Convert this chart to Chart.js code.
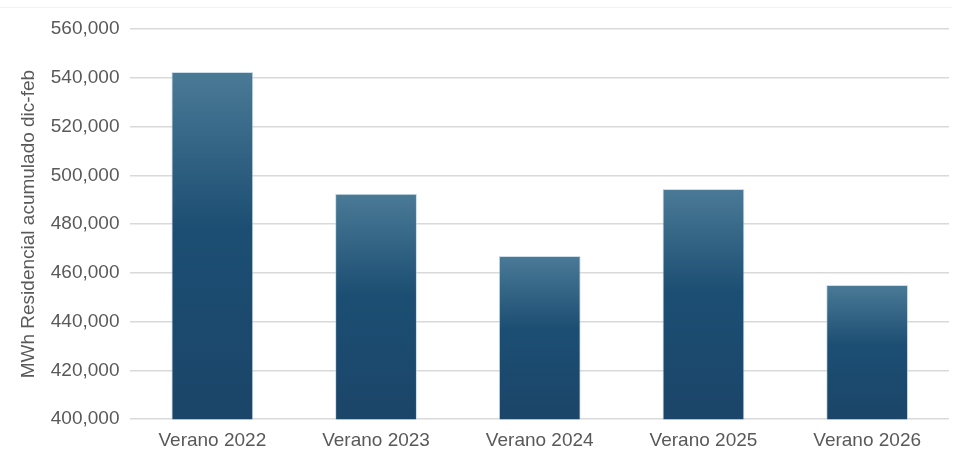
<!DOCTYPE html>
<html>
<head>
<meta charset="utf-8">
<script src="https://cdn.jsdelivr.net/npm/chart.js@4"></script>
<style>
  html, body { margin: 0; padding: 0; background: #fff; }
  #wrap { width: 956px; height: 468px; }
</style>
</head>
<body>
<div id="wrap"><canvas id="c"></canvas></div>
<script>
const categories = ['Verano 2022', 'Verano 2023', 'Verano 2024', 'Verano 2025', 'Verano 2026'];
const mwhValues = [542400, 492400, 466900, 494400, 455000];
const yTicks = [400000, 420000, 440000, 460000, 480000, 500000, 520000, 540000, 560000];

// degradado por barra: claro arriba, oscuro abajo
function barGradient(context) {
  const chart = context.chart;
  const { ctx, chartArea, scales } = chart;
  if (!chartArea) return '#1d4d71';
  const top = scales.y.getPixelForValue(context.raw);
  const bottom = scales.y.getPixelForValue(yTicks[0]);
  const g = ctx.createLinearGradient(0, top, 0, bottom);
  g.addColorStop(0, '#4a7a96');
  g.addColorStop(0.45, '#1c4e73');
  g.addColorStop(1, '#1b4569');
  return g;
}

const topLine = {
  id: 'topLine',
  beforeDraw(chart) {
    const ctx = chart.ctx;
    ctx.save();
    ctx.strokeStyle = '#f2f2f2';
    ctx.lineWidth = 1;
    ctx.beginPath();
    ctx.moveTo(0, 7.5);
    ctx.lineTo(chart.width - 4, 7.5);
    ctx.stroke();
    ctx.restore();
  }
};

const font = { family: 'Liberation Sans', size: 19 };

new Chart(document.getElementById('c'), {
  type: 'bar',
  data: {
    labels: categories,
    datasets: [{
      data: mwhValues,
      backgroundColor: barGradient,
      borderColor: 'rgba(170, 200, 220, 0.6)',
      borderWidth: 1,
      categoryPercentage: 1,
      barPercentage: 0.5
    }]
  },
  options: {
    responsive: true,
    maintainAspectRatio: false,
    animation: false,
    layout: { padding: { left: 17, right: 7, top: 29, bottom: 6 } },
    plugins: {
      legend: { display: false },
      tooltip: { enabled: false }
    },
    scales: {
      x: {
        grid: { display: false, drawTicks: false },
        border: { display: false },
        ticks: { color: '#595959', font: font, padding: 10 }
      },
      y: {
        min: 400000,
        max: 560000,
        afterBuildTicks(axis) { axis.ticks = yTicks.map(v => ({ value: v })); },
        grid: { color: '#d9d9d9', lineWidth: 1.5, drawTicks: false },
        border: { display: false },
        ticks: {
          color: '#595959',
          font: font,
          padding: 11,
          callback: v => v.toLocaleString('en-US')
        },
        title: {
          display: true,
          text: 'MWh Residencial acumulado dic-feb',
          color: '#595959',
          font: font,
          padding: { top: 0, bottom: 0 }
        }
      }
    }
  },
  plugins: [topLine]
});
</script>
</body>
</html>
